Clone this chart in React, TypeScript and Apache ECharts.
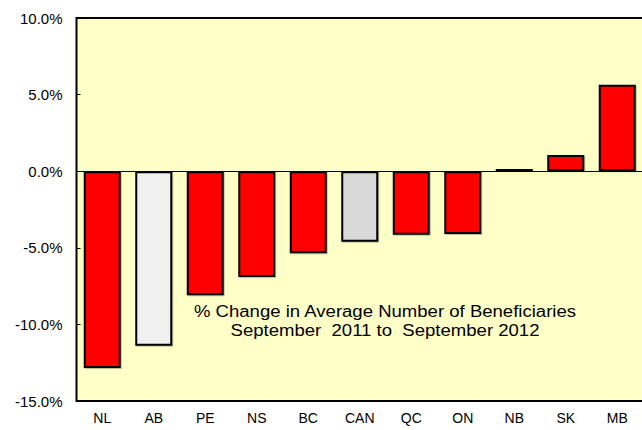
import React, { useEffect, useRef } from "react";
import * as echarts from "echarts";

const categories = ["NL", "AB", "PE", "NS", "BC", "CAN", "QC", "ON", "NB", "SK", "MB"];
const values = [-12.85, -11.4, -8.1, -6.9, -5.35, -4.6, -4.15, -4.1, 0.15, 1.05, 5.65];
const barColors = ["#ff0000", "#f0f0f0", "#ff0000", "#ff0000", "#ff0000", "#d9d9d9", "#ff0000", "#ff0000", "#ff0000", "#ff0000", "#ff0000"];
const yTicks = { min: -15, max: 10, interval: 5 };
const noteLines = ["% Change in Average Number of Beneficiaries", "September  2011 to  September 2012"];

const FONT = "'Liberation Sans', Arial, sans-serif";

export default function App() {
  const ref = useRef<HTMLDivElement>(null);
  useEffect(() => {
    if (!ref.current) return;
    const chart = echarts.init(ref.current, undefined, { renderer: "svg" });
    chart.setOption({
      animation: false,
      grid: {
        left: 76.5,
        top: 18,
        right: 3,
        bottom: 29,
        show: true,
        backgroundColor: "#ffffc8",
        borderColor: "#000",
        borderWidth: 2,
      },
      xAxis: {
        type: "category",
        data: categories,
        axisLine: { show: false },
        axisTick: { show: false },
        axisLabel: { color: "#000", fontFamily: FONT, fontSize: 14, margin: 10 },
      },
      yAxis: {
        type: "value",
        min: yTicks.min,
        max: yTicks.max,
        interval: yTicks.interval,
        splitLine: { show: false },
        axisLine: { show: false },
        axisTick: { show: true, inside: true, length: 4, lineStyle: { color: "#000" } },
        axisLabel: {
          color: "#000",
          fontFamily: FONT,
          fontSize: 15,
          margin: 14,
          formatter: (v: number) => v.toFixed(1) + "%",
        },
      },
      series: [
        {
          type: "bar",
          data: values.map((v, i) => ({ value: v, itemStyle: { color: barColors[i] } })),
          barWidth: 37,
          itemStyle: {
            borderColor: "#000",
            borderWidth: 2,
            shadowColor: "rgba(0,0,0,0.25)",
            shadowBlur: 1,
            shadowOffsetX: 1,
            shadowOffsetY: 1,
          },
          markLine: {
            silent: true,
            symbol: "none",
            z: 1,
            label: { show: false },
            lineStyle: { color: "#000", type: "solid", width: 1 },
            data: [{ yAxis: 0 }],
          },
        },
      ],
      graphic: [
        {
          type: "text",
          x: 385,
          y: 302.5,
          scaleX: 1.16,
          style: {
            text: noteLines.join("\n"),
            align: "center",
            verticalAlign: "top",
            fill: "#000",
            font: `16px ${FONT}`,
            lineHeight: 18.5,
          },
        },
      ],
    });
    return () => chart.dispose();
  }, []);
  return (
    <div style={{ position: "absolute", left: 0, top: 0, width: 642, height: 430, overflow: "hidden" }}>
      <div ref={ref} style={{ width: 646, height: 430 }} />
    </div>
  );
}
